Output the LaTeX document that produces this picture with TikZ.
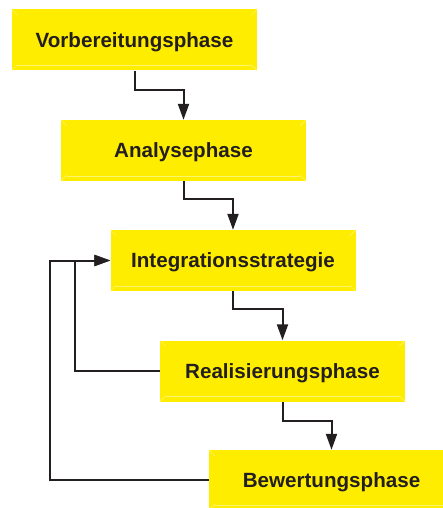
\documentclass[tikz,border=0pt]{standalone}
\usepackage{fontspec}
\setmainfont{Liberation Sans}
\usetikzlibrary{arrows.meta}
\definecolor{phasefill}{HTML}{FFED00}
\definecolor{phaseedge}{HTML}{FFF56E}
\definecolor{ink}{HTML}{231F20}
\tikzset{
  phase/.style={rectangle, fill=phasefill, draw=none, minimum width=245pt,
    minimum height=61pt, inner sep=0pt, text=ink, text height=14.7pt,
    text depth=0pt, font=\fontsize{20.6}{24}\selectfont\bfseries},
  flow/.style={draw=ink, line width=2pt, -{Triangle[length=16pt,width=11pt]}},
  bevel/.style={draw=phaseedge, line width=0.7pt}
}
\begin{document}
\begin{tikzpicture}[x=1pt,y=-1pt]
\useasboundingbox (0,0) rectangle (443,508);
\clip (0,0) rectangle (443,508);
% phase boxes
\node[phase] (b1) at (134.5,40)  {Vorbereitungsphase};
\node[phase] (b2) at (183.5,150.5) {Analysephase};
\node[phase] (b3) at (233,260.5) {Integrationsstrategie};
\node[phase] (b4) at (282.5,371) {Realisierungsphase};
\node[phase, minimum height=60pt] (b5) at (331.5,480) {Bewertungsphase};
% bevelled edges of the boxes
\foreach \n in {b1,b2,b3,b4,b5}{
  \draw[bevel] (\n.north west) -- ++(6,6);
  \draw[bevel] (\n.north east) -- ++(-6,6);
  \draw[bevel] (\n.south west) -- ++(6,-6);
  \draw[bevel] (\n.south east) -- ++(-6,-6);
  \draw[bevel] ([shift={(6,-5)}]\n.south west) -- ([shift={(-6,-5)}]\n.south east);
}
% forward flow
\draw[flow] (b1.south) -- ++(0,19) -| (b2.north);
\draw[flow] (b2.south) -- ++(0,18) -| (b3.north);
\draw[flow] (b3.south) -- ++(0,18) -| (b4.north);
\draw[flow] (b4.south) -- ++(0,19) -| (b5.north);
% feedback loops
\draw[flow] (b5.west) -- ++(-158.5,0) |- (b3.west);
\draw[flow] (b4.west) -- ++(-85,0) |- (b3.west);
\end{tikzpicture}
\end{document}
